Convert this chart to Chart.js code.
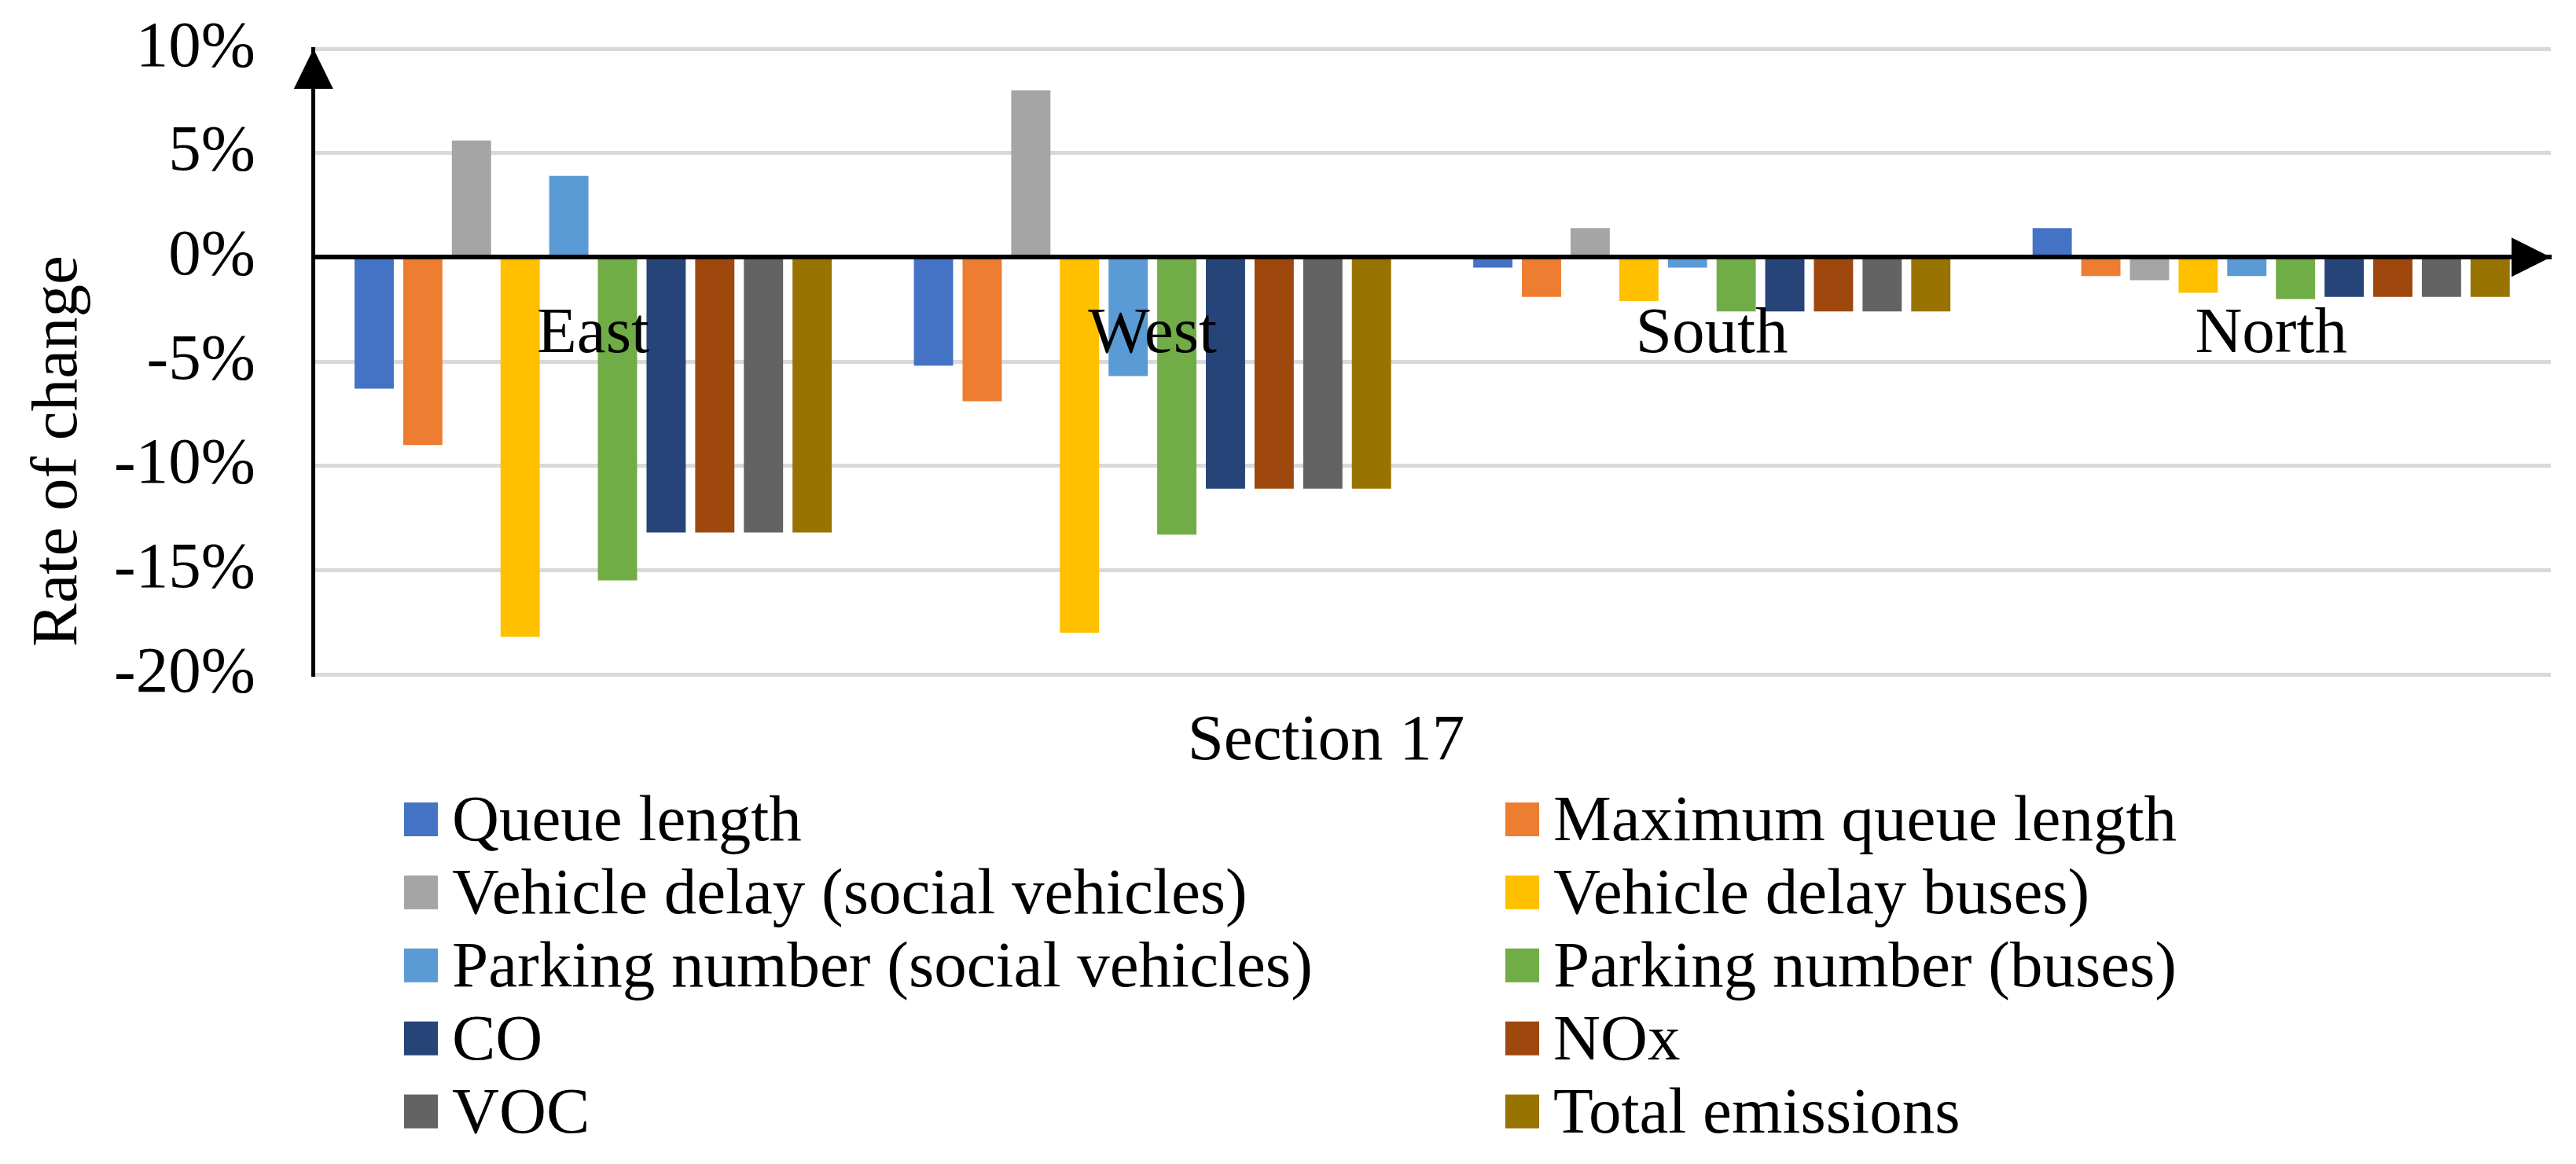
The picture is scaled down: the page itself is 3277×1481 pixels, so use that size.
<!DOCTYPE html>
<html>
<head>
<meta charset="utf-8">
<script src="https://cdn.jsdelivr.net/npm/chart.js@4.4.1/dist/chart.umd.min.js"></script>
<style>
  html, body { margin: 0; padding: 0; background: #fff; }
  #chart { display: block; }
</style>
</head>
<body>
<canvas id="chart" width="3277" height="1481"></canvas>
<script>
// Rate of change per approach, Section 17
const categories = ['East', 'West', 'South', 'North'];

const queueLength        = [-6.3,  -5.2,  -0.5,  1.4];
const maxQueueLength     = [-9.0,  -6.9,  -1.9, -0.9];
const delaySocial        = [ 5.6,   8.0,   1.4, -1.1];
const delayBuses         = [-18.2, -18.0, -2.1, -1.7];
const parkingSocial      = [ 3.9,  -5.7,  -0.5, -0.9];
const parkingBuses       = [-15.5, -13.3, -2.6, -2.0];
const co                 = [-13.2, -11.1, -2.6, -1.9];
const nox                = [-13.2, -11.1, -2.6, -1.9];
const voc                = [-13.2, -11.1, -2.6, -1.9];
const totalEmissions     = [-13.2, -11.1, -2.6, -1.9];

const seriesNames = [
    'Queue length', 'Maximum queue length',
    'Vehicle delay (social vehicles)', 'Vehicle delay buses)',
    'Parking number (social vehicles)', 'Parking number (buses)',
    'CO', 'NOx',
    'VOC', 'Total emissions'
];
const seriesValues = [
    queueLength, maxQueueLength, delaySocial, delayBuses, parkingSocial,
    parkingBuses, co, nox, voc, totalEmissions
];
const seriesColors = [
    '#4472C4', '#ED7D31', '#A5A5A5', '#FFC000', '#5B9BD5',
    '#70AD47', '#264478', '#9E480E', '#636363', '#997300'
];

const yTicks = [-20, -15, -10, -5, 0, 5, 10];

const FAMILY = "'Liberation Serif', 'Times New Roman', serif";
const FONT_SIZE = 83;

// axis arrows, axis titles and the two-column legend
const extras = {
    id: 'extras',
    afterDraw(chart) {
        const { ctx, chartArea: a, scales } = chart;
        const zeroY = scales.y.getPixelForValue(0);
        ctx.save();
        ctx.fillStyle = '#000';

        ctx.beginPath();
        ctx.moveTo(a.left, a.top);
        ctx.lineTo(a.left - 25, a.top + 51);
        ctx.lineTo(a.left + 25, a.top + 51);
        ctx.closePath();
        ctx.fill();

        ctx.beginPath();
        ctx.moveTo(a.right, zeroY);
        ctx.lineTo(a.right - 50, zeroY - 25);
        ctx.lineTo(a.right - 50, zeroY + 25);
        ctx.closePath();
        ctx.fill();

        ctx.font = FONT_SIZE + 'px ' + FAMILY;
        ctx.textBaseline = 'alphabetic';
        ctx.textAlign = 'center';
        ctx.fillText('Section 17', 1687, 966);

        ctx.save();
        ctx.translate(97, 574);
        ctx.rotate(-Math.PI / 2);
        ctx.fillText('Rate of change', 0, 0);
        ctx.restore();

        // legend, row by row, two columns
        ctx.textAlign = 'left';
        const colX = [514, 1915];
        chart.data.datasets.forEach((ds, i) => {
            const x = colX[i % 2];
            const top = 1021 + Math.floor(i / 2) * 92.9;
            ctx.fillStyle = ds.backgroundColor;
            ctx.fillRect(x, top, 43, 43);
            ctx.fillStyle = '#000';
            ctx.fillText(ds.label, x + 61, top + 48);
        });
        ctx.restore();
    }
};

new Chart(document.getElementById('chart'), {
    type: 'bar',
    data: {
        labels: categories,
        datasets: seriesNames.map((name, i) => ({
            label: name,
            data: seriesValues[i],
            backgroundColor: seriesColors[i],
            borderWidth: 0,
            categoryPercentage: 0.87,
            barPercentage: 0.806
        }))
    },
    options: {
        responsive: false,
        animation: false,
        events: [],
        layout: {
            padding: { left: 71, right: 32, top: 62, bottom: 623 }
        },
        plugins: {
            legend: { display: false },
            tooltip: { enabled: false },
            title: { display: false }
        },
        scales: {
            x: {
                position: { y: 0 },
                grid: { display: false, drawTicks: false },
                border: { display: true, color: '#000', width: 6, z: 1 },
                ticks: {
                    z: 1,
                    color: '#000',
                    padding: 49,
                    font: { family: FAMILY, size: FONT_SIZE }
                }
            },
            y: {
                min: -20,
                max: 10,
                afterBuildTicks: scale => {
                    scale.ticks = yTicks.map(v => ({ value: v }));
                },
                afterFit: scale => {
                    // keep the wide label gap from pushing the plot down
                    scale.paddingTop = 0;
                    scale.paddingBottom = 0;
                },
                grid: { color: '#d9d9d9', lineWidth: 5, drawTicks: false },
                border: { display: true, color: '#000', width: 5 },
                ticks: {
                    color: '#000',
                    padding: 74,
                    font: { family: FAMILY, size: FONT_SIZE },
                    callback: v => v + '%'
                }
            }
        }
    },
    plugins: [extras]
});
</script>
</body>
</html>
